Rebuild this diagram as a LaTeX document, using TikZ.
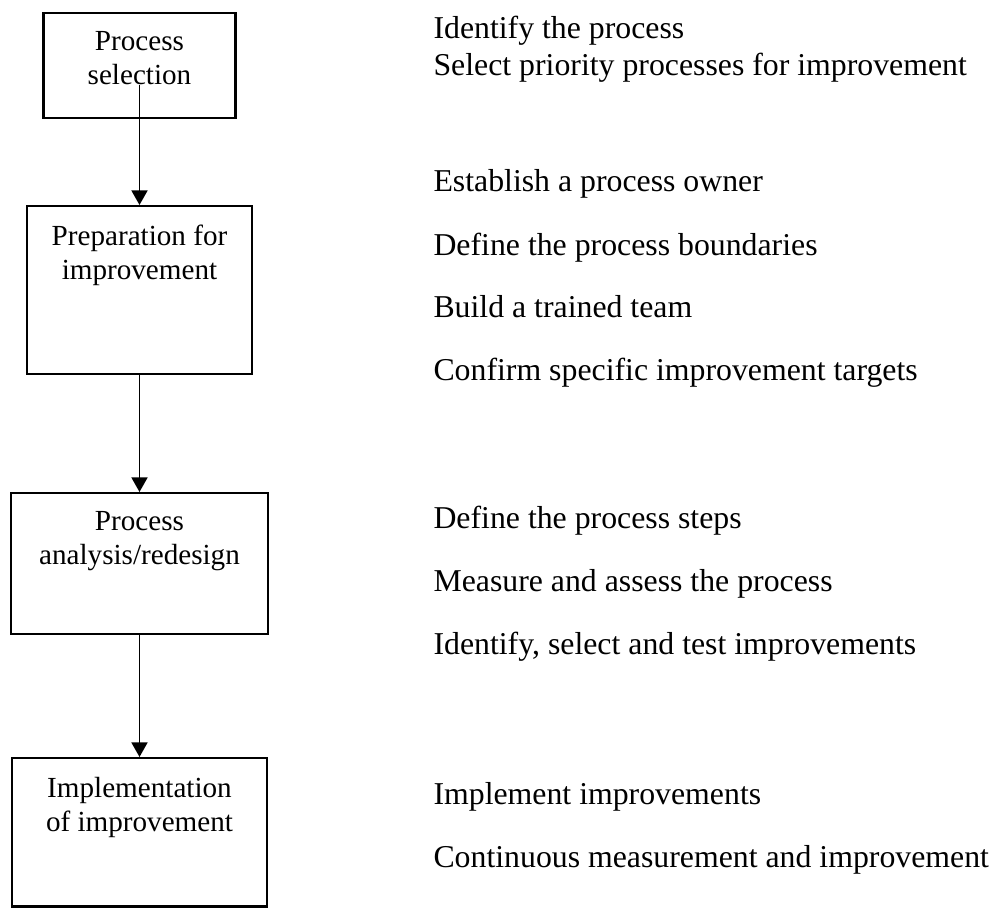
\documentclass[tikz,border=0pt]{standalone}
\usepackage{fontspec}
\setmainfont{Liberation Serif}
\usetikzlibrary{arrows.meta,positioning}

\begin{document}
\begin{tikzpicture}[x=0.3774pt,y=-0.3774pt,
  stagebox/.style={draw,line width=0.9pt,anchor=north,inner sep=0pt},
  stagelabel/.style={anchor=north,align=center,inner sep=0pt,font=\fontsize{11}{12.8}\selectfont},
  stepnote/.style={anchor=base west,inner sep=0pt,font=\fontsize{12}{13.8}\selectfont},
  flow/.style={line width=0.75pt,-{Triangle[length=5.5pt,width=6pt]}}]
\useasboundingbox (0,0) rectangle (998,909);
% stages on the left
\node[stagebox,minimum width=72.5pt,minimum height=39.6pt] (sel) at (139.5,12) {};
\node[stagebox,minimum width=84.9pt,minimum height=63.4pt] (prep) at (139.5,205) {};
\node[stagebox,minimum width=97.0pt,minimum height=53.2pt] (anal) at (139.5,492) {};
\node[stagebox,minimum width=96.2pt,minimum height=55.9pt] (impl) at (139.5,757) {};
\node[stagelabel] (selText) at ([yshift=-7.2pt]sel.north) {Process\\selection};
\node[stagelabel] (prepText) at ([yshift=-7.2pt]prep.north) {Preparation for\\improvement};
\node[stagelabel] (analText) at ([yshift=-7.2pt]anal.north) {Process\\analysis/redesign};
\node[stagelabel] (implText) at ([yshift=-7.6pt]impl.north) {Implementation\\of improvement};
% arrows between stages
\draw[flow] (selText.south) -- (prep.north);
\draw[flow] (prep.south) -- (anal.north);
\draw[flow] (anal.south) -- (impl.north);
% activities on the right
\node[stepnote] (s1a) at (433,39) {Identify the process};
\node[stepnote] (s1b) at (433,76) {Select priority processes for improvement};
\node[stepnote] (s2a) at (433,191) {Establish a process owner};
\node[stepnote] (s2b) at (433,255) {Define the process boundaries};
\node[stepnote] (s2c) at (433,317) {Build a trained team};
\node[stepnote] (s2d) at (433,380) {Confirm specific improvement targets};
\node[stepnote] (s3a) at (433,528) {Define the process steps};
\node[stepnote] (s3b) at (433,591) {Measure and assess the process};
\node[stepnote] (s3c) at (433,654) {Identify, select and test improvements};
\node[stepnote] (s4a) at (433,804) {Implement improvements};
\node[stepnote] (s4b) at (433,867) {Continuous measurement and improvement};
\end{tikzpicture}
\end{document}
